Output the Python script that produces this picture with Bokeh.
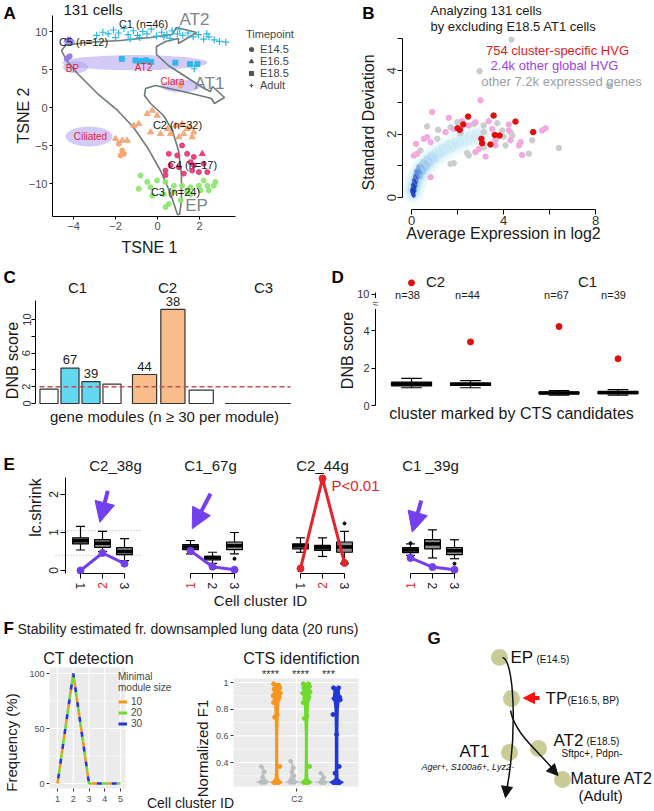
import math
from bokeh.plotting import figure
from bokeh.layouts import column, row
from bokeh.models import (Label, Range1d, FixedTicker, LinearAxis, Legend,
                          LegendItem, Arrow, NormalHead, AllLabels)
from bokeh.core.properties import value
from bokeh.embed import file_html
from bokeh.resources import INLINE

FONT = "Liberation Sans"
NAN = float("nan")
PURPLE = "#7340EE"
RED = "#E3242B"

# ======================= DATA =======================
# ---- Panel A (tSNE) ----
A_C1_CROSS_X = [-2.9, -2.6, -2.35, -2.1, -1.85, -1.6, -1.4, -1.15, -0.95, -0.7, -0.5, -0.3, -0.05, 0.2, 0.45, 0.7, 0.95,
                1.2, 1.45, 1.7, 1.95, 2.2, 2.45, 2.7, 2.95, 3.25, -2.0, -0.85, 0.3, 1.05, -1.3, 0.6, 2.35, 1.75]
A_C1_CROSS_Y = [9.5, 9.9, 9.7, 10.2, 9.8, 10.4, 9.6, 10.1, 9.5, 10.0, 9.7, 10.3, 9.4, 9.9, 9.6, 10.1, 9.7,
                9.5, 9.8, 9.3, 9.6, 9.0, 9.3, 8.9, 8.7, 8.6, 9.2, 9.2, 9.3, 10.3, 9.0, 9.1, 9.7, 5.1]
A_C1_SQ_X = [-1.7, -1.05, -0.8, -0.55, -0.3, 0.85, 1.55, 1.9]
A_C1_SQ_Y = [6.4, 6.2, 6.1, 6.2, 6.0, 5.9, 5.7, 5.7]
A_C5_X = [-4.25, -4.32, -4.18, -4.3, -4.22, -4.12]
A_C5_Y = [6.6, 6.4, 6.75, 8.8, 8.95, 8.7]
A_C2_TRI_X = [-0.49, -0.25, -0.02, -0.89, -1.13, -0.33, 0.14, 0.46, 0.86, 1.17, 1.41, 1.73, 1.25, 1.02, 1.65,
              -1.44, -1.68, 1.57, 0.62, -2.0]
A_C2_TRI_Y = [-0.83, -0.39, -1.05, -2.15, -2.37, -3.25, -3.47, -2.8, -2.37, -2.15, -2.8, -3.25, -3.47, -3.9, -3.9,
              -4.34, -4.34, -2.6, -3.47, -4.1]
A_C2_CIR_X = [-1.84, -1.68, -1.76, -1.6, 1.1]
A_C2_CIR_Y = [-4.78, -5.66, -6.3, -6.1, 2.9]
A_C4_X = [1.17, 0.54, 0.94, 1.41, 1.73, 2.2, 1.57, 1.65, 1.97, 0.38, 1.02, 1.25, 0.62, 2.37, 1.73, 0.38]
A_C4_Y = [-5.0, -6.1, -6.3, -6.1, -6.5, -7.4, -7.2, -8.3, -8.5, -8.3, -7.85, -8.7, -7.6, -8.5, -7.6, -8.9]
A_C4_TRI_X = [2.13]
A_C4_TRI_Y = [-6.1]
A_C3_X = [-0.81, -0.49, -0.89, -0.02, 0.38, 0.78, 1.17, 1.57, 1.97, 2.37, 2.68, 2.05, 1.41, 0.78, 0.3, -0.25,
          0.54, 0.38, 1.1, 1.57, 2.44, 2.2, 2.76, -0.33]
A_C3_Y = [-8.95, -9.8, -10.7, -9.6, -9.8, -10.3, -10.3, -10.5, -10.3, -10.3, -10.3, -10.9, -11.1, -11.1, -11.4,
          -11.6, -12.7, -13.1, -12.2, -11.4, -10.9, -9.6, -9.8, -10.5]
A_BLOB_X = [-1.07, -3.9, 1.1, -3.26, -4.19]
A_BLOB_Y = [5.9, 5.3, 2.85, -3.82, 8.62]
A_BLOB_W = [6.9, 1.2, 1.9, 2.24, 0.6]
A_BLOB_H = [2.0, 1.6, 1.7, 2.63, 0.9]
A_ARROW_X = [0.95, 0.62, 0.14, -0.48, -1.14, -1.90, -2.86, -3.81, -4.33, -4.57, -4.38, -3.43, -1.76, -0.33, 0.71,
             0.90, 1.86, 1.0, 1.0, 0.38, -0.05, -0.05, 0.52, 1.33, 2.14, 2.52, 2.62, 3.19, 2.71, 2.57, 1.81, 1.0,
             -0.1, -0.57, -0.62, -0.33, 0.29, 0.71, 1.0, 1.14, 1.14, 1.05]
A_ARROW_Y = [-14.08, -11.32, -8.29, -5.26, -2.63, -0.39, 1.84, 4.47, 6.18, 7.5, 8.16, 8.55, 8.82, 9.21, 9.61,
             10.53, 9.87, 8.42, 9.08, 8.68, 8.03, 6.97, 5.53, 4.08, 2.63, 2.11, 2.76, 1.32, 0.53, 1.18, 1.71, 2.24,
             2.89, 2.5, 1.58, 0.53, -1.05, -3.03, -5.66, -8.95, -12.24, -14.08]

# ---- Panel B ----
B_RED_X = [2.01, 2.1, 2.46, 3.57, 3.04, 3.07, 3.43, 3.62, 3.83, 4.52, 5.29, 2.25]
B_RED_Y = [2.18, 2.13, 2.55, 2.58, 1.85, 1.71, 1.67, 1.97, 1.95, 2.39, 2.06, 2.3]
B_PINK_X = [0.9, 1.62, 3.0, 0.2, 0.1, 0.54, 0.83, 0.83, 1.48, 1.84, 2.2, 2.78, 2.49, 3.36, 3.51, 4.23, 4.23, 4.3,
            4.74, 4.67, 4.81, 3.22, 2.78, 2.93, 3.65, 5.83, 5.68, 3.65, 0.25, 0.68]
B_PINK_Y = [2.69, 2.51, 3.06, 1.69, 1.32, 1.85, 1.74, 0.64, 2.06, 2.16, 2.4, 2.37, 2.27, 2.4, 2.16, 2.3, 2.11, 1.8,
            1.74, 1.64, 1.34, 1.29, 1.43, 1.53, 1.8, 2.18, 2.11, 1.64, 1.38, 1.9]
B_GREY_X = [4.35, 2.96, 8.58, 0.68, 1.16, 1.7, 1.99, 2.71, 3.14, 3.94, 4.01, 4.38, 4.3, 5.25, 6.41, 5.1, 2.42,
            2.49, 1.7, 1.84, 1.12, 0.39, 2.13, 3.14, 3.73, 3.14, 4.09]
B_GREY_Y = [4.97, 3.98, 3.53, 2.24, 2.13, 2.21, 2.37, 2.32, 2.06, 2.11, 1.92, 1.95, 2.06, 1.8, 1.56, 1.38, 1.4,
            1.32, 1.06, 1.08, 1.85, 1.48, 2.03, 1.58, 2.34, 2.27, 1.64]
B_DENS_X = [0.04, 0.07, 0.1, 0.13, 0.17, 0.21, 0.26, 0.32, 0.39, 0.47, 0.56, 0.66, 0.77, 0.89, 1.02, 1.16, 1.31,
            1.47, 1.64, 1.82, 2.01, 2.21, 2.42, 2.64, 2.87, 3.1]
B_DENS_Y = [0.1, 0.18, 0.27, 0.36, 0.45, 0.54, 0.63, 0.72, 0.81, 0.9, 0.98, 1.06, 1.14, 1.22, 1.3, 1.38, 1.46,
            1.53, 1.6, 1.67, 1.74, 1.8, 1.86, 1.91, 1.96, 2.0]
B_MID_X = [0.3, 0.42, 0.56, 0.72, 0.92]
B_MID_Y = [0.75, 0.9, 1.03, 1.15, 1.28]
B_MID_A = [0.3, 0.24, 0.17, 0.12, 0.07]
B_CORE_X = [0.06, 0.1, 0.14, 0.18, 0.24, 0.32]
B_CORE_Y = [0.15, 0.3, 0.45, 0.58, 0.72, 0.88]
B_CORE_A = [0.85, 0.8, 0.65, 0.5, 0.35, 0.2]

# ---- Panel C ----
C_BAR_X = [0.5, 1.5, 2.5, 3.5, 5.05, 6.4, 7.75, 9.4, 10.45, 11.5]
C_BAR_W = [0.86, 0.86, 0.86, 0.86, 1.15, 1.15, 1.15, 1.05, 1.05, 1.05]
C_DNB = [1.7, 4.2, 2.6, 2.3, 3.45, 11.2, 1.6, 0.0, 0.0, 0.0]
C_FILL = ["white", "#63D8F0", "#63D8F0", "white", "#F9BD8C", "#F9BD8C", "white", "white", "white", "white"]
C_SIZE_LABEL = ["", "67", "39", "", "44", "38", "", "", "", ""]
C_GROUPS = ["C1", "C2", "C3"]
C_GROUP_PX = [77, 167, 263]
C_THRESH = 2.0

# ---- Panel D ----
D_X = [1, 2, 3.5, 4.5]
D_LO = [0.95, 0.95, 0.55, 0.55]
D_Q1 = [1.05, 1.07, 0.63, 0.63]
D_MED = [1.15, 1.13, 0.67, 0.70]
D_Q3 = [1.25, 1.20, 0.72, 0.75]
D_HI = [1.45, 1.33, 0.80, 0.85]
D_TOP = [10.8, 3.4, 4.22, 2.5]
D_N = ["n=38", "n=44", "n=67", "n=39"]
D_N_PX = [407, 467, 556, 613]
D_CL = ["C2", "C1"]
D_CL_PX = [435, 587]

# ---- Panel E ----
E_OFF = [0, 5, 10, 15]
E_TITLES = ["C2_38g", "C1_67g", "C2_44g", "C1 _39g"]
E_TITLE_PX = [115, 210, 322, 430]
E_LO = [[0.54, 0.50, 0.26], [0.44, 0.19, 0.44], [0.48, 0.37, 0.18], [0.40, 0.33, 0.31]]
E_Q1 = [[0.70, 0.61, 0.42], [0.55, 0.28, 0.55], [0.57, 0.53, 0.48], [0.47, 0.57, 0.42]]
E_MED = [[0.78, 0.72, 0.50], [0.62, 0.34, 0.65], [0.65, 0.60, 0.62], [0.54, 0.70, 0.52]]
E_Q3 = [[0.86, 0.81, 0.60], [0.68, 0.37, 0.75], [0.70, 0.66, 0.75], [0.60, 0.81, 0.60]]
E_HI = [[1.16, 1.03, 0.84], [0.79, 0.48, 1.00], [0.86, 0.86, 1.03], [0.70, 1.07, 0.81]]
E_OUT_SUB = [1, 2, 3, 3]
E_OUT_POS = [3, 3, 1, 3]
E_OUT_VAL = [0.31, 1.24, 0.72, 0.18]
E_LINE = [[0.0, 0.46, 0.18], [0.52, 0.10, 0.02], [0.05, 2.42, 0.20], [0.33, 0.09, 0.02]]
E_LINE_COL = [PURPLE, PURPLE, RED, PURPLE]
E_HILITE = [2, 1, 2, 1]
E_ARROW_SUB = [0, 1, 3]
E_ARROW_X0 = [2.24, 1.91, 1.49]
E_ARROW_Y0 = [2.1, 2.02, 1.84]
E_ARROW_X1 = [1.88, 1.08, 1.08]
E_ARROW_Y1 = [1.27, 1.1, 1.01]
E_REF_LINES = [1.05, 0.4]

# ---- Panel F ----
F_CLUSTER = [1, 2, 3, 4, 5]
F_FREQ_10 = [0, 100, 0, 0, 0]
F_FREQ_20 = [0, 100, 0, 0, 0]
F_FREQ_30 = [0, 100, 0, 0, 0]
F_SIZES = ["10", "20", "30"]
F_COLS = ["#F5961E", "#6EDB2E", "#2237D8"]
F_F1_10 = [0.99, 0.98, 0.97, 0.96, 0.95, 0.93, 0.92, 0.90, 0.90, 0.89, 0.88, 0.87, 0.85, 0.76, 0.74, 0.37,
           0.25, 0.25, 0.25, 0.25]
F_F1_20 = [0.99, 0.99, 0.98, 0.97, 0.96, 0.95, 0.93, 0.92, 0.90, 0.89, 0.88, 0.87, 0.85, 0.75, 0.73, 0.37,
           0.25, 0.25, 0.25, 0.25]
F_F1_30 = [0.96, 0.96, 0.95, 0.89, 0.88, 0.88, 0.87, 0.76, 0.61, 0.37, 0.32, 0.25, 0.25, 0.25, 0.25, 0.25,
           0.25, 0.25, 0.25, 0.25]
F_GREY_VALS = [[0.37, 0.33, 0.29, 0.26, 0.25, 0.25, 0.25, 0.25],
               [0.41, 0.36, 0.33, 0.30, 0.27, 0.25, 0.25, 0.25],
               [0.32, 0.29, 0.27, 0.25, 0.25, 0.25, 0.25, 0.25]]
F_JIT = [-0.03, 0.02, -0.01, 0.03, -0.025, 0.01, 0.035, -0.035, 0.0, 0.025, -0.015, 0.015, -0.03, 0.005,
         -0.02, 0.03, -0.01, 0.02, -0.025, 0.01]
F_GREY_POS = [0.68, 0.96, 1.25]
F_COL_POS = [0.81, 1.095, 1.385]
F_VC_Y = [[0.25, 0.26, 0.28, 0.33, 0.45, 0.6, 0.72, 0.78, 0.85, 0.9, 0.95, 0.99],
          [0.25, 0.26, 0.28, 0.33, 0.45, 0.6, 0.72, 0.78, 0.85, 0.9, 0.95, 0.99],
          [0.25, 0.26, 0.28, 0.33, 0.45, 0.6, 0.72, 0.8, 0.86, 0.9, 0.94, 0.96]]
F_VC_HW = [[0.055, 0.03, 0.012, 0.01, 0.008, 0.008, 0.012, 0.014, 0.02, 0.03, 0.03, 0.016],
           [0.055, 0.03, 0.012, 0.01, 0.008, 0.008, 0.012, 0.014, 0.02, 0.03, 0.03, 0.016],
           [0.065, 0.035, 0.012, 0.01, 0.01, 0.01, 0.012, 0.014, 0.022, 0.028, 0.024, 0.014]]
F_VG_Y = [[0.25, 0.26, 0.28, 0.30, 0.34, 0.37], [0.25, 0.26, 0.28, 0.31, 0.36, 0.41],
          [0.25, 0.26, 0.27, 0.29, 0.31, 0.32]]
F_VG_HW = [[0.07, 0.045, 0.016, 0.01, 0.008, 0.003], [0.07, 0.045, 0.02, 0.014, 0.01, 0.003],
           [0.075, 0.03, 0.012, 0.008, 0.006, 0.003]]
F_STARS = ["****", "****", "***"]
F_STAR_PX = [270, 300, 328]

# ---- Panel G ----
G_NODE_X = [79, 91, 89, 118, 142]
G_NODE_Y = [47, 88, 142, 138, 169]


# ======================= HELPERS =======================
# a mapping m = (ref_px_x, value_x, px_per_unit_x, ref_px_y, value_y, px_per_unit_y) in page pixels
def X(m, px):
    return m[1] + (px - m[0]) / m[2]


def Y(m, py):
    return m[4] + (m[3] - py) / m[5]


def mk(m, x0, y0, w, h):
    p = figure(width=w, height=h, x_range=Range1d(X(m, x0), X(m, x0 + w)),
               y_range=Range1d(Y(m, y0 + h), Y(m, y0)), output_backend="svg", toolbar_location=None,
               x_axis_location=None, y_axis_location=None, title=None,
               min_border_left=0, min_border_right=0, min_border_top=0, min_border_bottom=0)
    p.outline_line_color = None
    p.xgrid.visible = False
    p.ygrid.visible = False
    return p


def axis(p, side, loc, ticks, fs="10px", col="#4D4D4D", line="black", tickc="black", tick=3,
         orient=None, mstand=2, bounds=None, overrides=None, yname=None):
    kw = {}
    if yname:
        kw["y_range_name"] = yname
    ax = LinearAxis(fixed_location=loc, **kw)
    ax.ticker = FixedTicker(ticks=ticks)
    ax.major_label_policy = AllLabels()
    ax.major_label_text_font = FONT
    ax.major_label_text_font_size = fs
    ax.major_label_text_color = col
    ax.axis_line_color = line
    ax.major_tick_line_color = tickc
    ax.minor_tick_line_color = None
    ax.major_tick_out = tick
    ax.major_tick_in = 0
    ax.major_label_standoff = mstand
    if orient is not None:
        ax.major_label_orientation = orient
    if bounds is not None:
        ax.bounds = bounds
    if overrides:
        ax.major_label_overrides = overrides
    p.add_layout(ax, side)
    return ax


def T(p, m, px, py, text, fs=12, color="#1a1a1a", align="center", base="middle", style="normal", angle=0):
    p.add_layout(Label(x=X(m, px), y=Y(m, py), text=text, text_font=FONT, text_font_size=f"{fs}px",
                       text_color=color, text_align=align, text_baseline=base, text_font_style=style,
                       angle=angle))


def boxes(p, xs, lo, q1, med, q3, hi, w, capw, fill="#8c8c8c"):
    p.segment(xs, lo, xs, q1, line_color="black", line_width=1.2)
    p.segment(xs, q3, xs, hi, line_color="black", line_width=1.2)
    p.segment([x - capw / 2 for x in xs], lo, [x + capw / 2 for x in xs], lo, line_color="black", line_width=1.2)
    p.segment([x - capw / 2 for x in xs], hi, [x + capw / 2 for x in xs], hi, line_color="black", line_width=1.2)
    p.quad(left=[x - w / 2 for x in xs], right=[x + w / 2 for x in xs], bottom=q1, top=q3,
           fill_color=fill, line_color="black", line_width=1.2)
    p.segment([x - w / 2 for x in xs], med, [x + w / 2 for x in xs], med, line_color="black", line_width=3.5)


def style_legend(leg, fs):
    leg.label_text_font = FONT
    leg.label_text_font_size = fs
    leg.title_text_font = FONT
    leg.title_text_font_size = fs
    leg.title_text_font_style = "normal"
    leg.spacing = 0
    leg.padding = 2
    leg.margin = 0
    leg.title_standoff = 3
    leg.label_standoff = 4
    leg.background_fill_alpha = 0
    leg.border_line_alpha = 0


# ======================= PANEL A =======================
mA = (157, 0, 21, 107, 0, 7.6)
C1COL, C2COL, C3COL, C4COL, C5COL = "#2DB8E6", "#F4A270", "#8BE76A", "#E63470", "#9B7BE3"
pa = mk(mA, 0, 0, 330, 262)
pa.ellipse(A_BLOB_X, A_BLOB_Y, width=A_BLOB_W, height=A_BLOB_H, fill_color="#B6A6EE", fill_alpha=0.6,
           line_color=None)
pa.patch(A_ARROW_X, A_ARROW_Y, fill_alpha=0, line_color="#6E7A7A", line_width=1.6)
pa.scatter(A_C1_CROSS_X, A_C1_CROSS_Y, marker="cross", size=7, line_color=C1COL, line_width=1.2)
pa.scatter(A_C1_SQ_X, A_C1_SQ_Y, marker="square", size=5, color=C1COL)
pa.scatter(A_C5_X, A_C5_Y, marker="circle", size=5, color=C5COL)
pa.scatter(A_C2_TRI_X, A_C2_TRI_Y, marker="triangle", size=6, color=C2COL, alpha=0.9)
pa.scatter(A_C2_CIR_X, A_C2_CIR_Y, marker="circle", size=5, color=C2COL, alpha=0.9)
pa.scatter(A_C3_X, A_C3_Y, marker="circle", size=5, color=C3COL, alpha=0.9)
pa.scatter(A_C4_X, A_C4_Y, marker="circle", size=5, color=C4COL, alpha=0.9)
pa.scatter(A_C4_TRI_X, A_C4_TRI_Y, marker="triangle", size=6, color=C4COL, alpha=0.9)
axis(pa, "below", Y(mA, 216), [-4, -2, 0, 2], fs="11px", bounds=(X(mA, 52), X(mA, 235)),
     overrides={-4: "\u22124", -2: "\u22122"})
axis(pa, "left", X(mA, 52), [-10, -5, 0, 5, 10], fs="11px", bounds=(Y(mA, 216), Y(mA, 15)),
     overrides={-10: "\u221210", -5: "\u22125"})
T(pa, mA, 149, 247, "TSNE 1", fs=16)
T(pa, mA, 23, 115, "TSNE 2", fs=16, angle=math.pi / 2)
T(pa, mA, 3, 13, "A", fs=17, style="bold", color="black", align="left")
T(pa, mA, 63, 9, "131 cells", fs=15, align="left")
T(pa, mA, 143, 23, "C1 (n=46)", fs=11)
T(pa, mA, 83, 41, "C5 (n=12)", fs=11)
T(pa, mA, 177, 124, "C2 (n=32)", fs=11)
T(pa, mA, 192, 164, "C4 (n=17)", fs=11)
T(pa, mA, 175, 191, "C3 (n=24)", fs=11)
for tx, px, py in [("BP", 72, 68), ("AT2", 143, 67), ("Clara", 172, 81), ("Ciliated", 90, 136)]:
    T(pa, mA, px, py, tx, fs=10, color="#E8203A")
for tx, px, py in [("AT2", 194, 19), ("AT1", 209, 83), ("EP", 196, 205)]:
    T(pa, mA, px, py, tx, fs=17, color="#7D8787")
items = []
for nm, mkr in [("E14.5", "circle"), ("E16.5", "triangle"), ("E18.5", "square"), ("Adult", "cross")]:
    r = pa.scatter([NAN], [NAN], marker=mkr, size=6, color="#555555", line_width=1.2)
    items.append(LegendItem(label=value(nm), renderers=[r]))
leg = Legend(items=items, title="Timepoint", location=(244, 169))
style_legend(leg, "11px")
leg.glyph_width = 10
leg.glyph_height = 12
leg.label_height = 12
pa.add_layout(leg)

# ======================= PANEL B =======================
mB = (411, 0, 23, 197, 0, 31.75)
pb = mk(mB, 330, 0, 324, 262)
pb.ellipse(B_DENS_X, B_DENS_Y, width=0.9, height=0.75, angle=0.5, fill_color="#A6DCF2", fill_alpha=0.07,
           line_color=None)
pb.ellipse(B_DENS_X, B_DENS_Y, width=0.55, height=0.45, angle=0.5, fill_color="#8FD0EE", fill_alpha=0.12,
           line_color=None)
pb.ellipse(B_MID_X, B_MID_Y, width=0.35, height=0.4, angle=0.6, fill_color="#3C7EDD", fill_alpha=B_MID_A,
           line_color=None)
pb.ellipse(B_CORE_X, B_CORE_Y, width=0.2, height=0.32, angle=0.3, fill_color="#0A2FC0",
           fill_alpha=B_CORE_A, line_color=None)
pb.scatter(B_GREY_X, B_GREY_Y, size=5.5, color="#C9CDCD")
pb.scatter(B_PINK_X, B_PINK_Y, size=5.5, color="#F2A9DF")
pb.scatter(B_RED_X, B_RED_Y, size=5.5, color="#E00E0E")
axis(pb, "below", Y(mB, 209), [0, 2, 4, 6, 8], fs="13px", col="#333333", tick=5, mstand=1, bounds=(0, 8),
     overrides={2: "", 6: ""})
axis(pb, "left", X(mB, 402), [0, 1, 2, 3, 4, 5], fs="13px", col="#333333", tick=5, mstand=2,
     orient="vertical", bounds=(0, 5), overrides={1: "", 3: "", 5: ""})
T(pb, mB, 368, 13, "B", fs=17, style="bold", color="black")
T(pb, mB, 430, 10, "Analyzing 131 cells", fs=13, align="left")
T(pb, mB, 430, 26, "by excluding E18.5 AT1 cells", fs=13, align="left")
T(pb, mB, 557, 50, "754 cluster-specific HVG", fs=13, color="#E31A1C")
T(pb, mB, 554, 65, "2.4k other global HVG", fs=13, color="#A23FE6")
T(pb, mB, 561, 81, "other 7.2k expressed genes", fs=13, color="#9AA0A0")
T(pb, mB, 368, 122, "Standard Deviation", fs=16, angle=math.pi / 2)
T(pb, mB, 503, 233, "Average Expression in log2", fs=16)

# ======================= PANEL C =======================
mC = (38, 0, 21, 403, 0, 8.4)
pc = mk(mC, 0, 262, 330, 181)
pc.vbar(x=C_BAR_X, width=C_BAR_W, top=C_DNB, bottom=0, fill_color=C_FILL, line_color="#333333",
        line_width=1.2)
pc.segment([X(mC, 39)], [C_THRESH], [X(mC, 290)], [C_THRESH], line_color="#C0504D", line_width=1.6,
           line_dash="5 3")
axis(pc, "left", X(mC, 35), [0, 2, 4, 6, 8, 10], fs="11px", col="#333333", tick=4, mstand=1,
     orient="vertical", bounds=(0, Y(mC, 300)), overrides={4: "", 8: ""})
for i, s in enumerate(C_SIZE_LABEL):
    if s:
        pc.add_layout(Label(x=C_BAR_X[i], y=C_DNB[i] + 0.45, text=s, text_font=FONT, text_font_size="13px",
                            text_color="#1a1a1a", text_align="center", text_baseline="bottom"))
for g, gx in zip(C_GROUPS, C_GROUP_PX):
    T(pc, mC, gx, 287, g, fs=15)
T(pc, mC, 3, 277, "C", fs=17, style="bold", color="black", align="left")
T(pc, mC, 12, 360, "DNB score", fs=16, angle=math.pi / 2)
T(pc, mC, 164, 416, "gene modules (n \u2265 30 per module)", fs=15)

# ======================= PANEL D =======================
def brk(v):
    return v if v < 5.5 else 5.95 + (v - 10) * 0.76


mD = (411, 1, 59, 405, 0, 18.7)
pdd = mk(mD, 330, 262, 324, 181)
boxes(pdd, D_X, D_LO, D_Q1, D_MED, D_Q3, D_HI, 0.68, 0.35)
pdd.scatter(D_X, [brk(v) for v in D_TOP], size=6, color="#E00E0E")
axis(pdd, "left", X(mD, 375), [0, 2, 4, 5.95], fs="11px", col="#333333", tick=4, mstand=2,
     bounds=(0, 6.05), overrides={5.95: "10"})
pdd.add_layout(Label(x=X(mD, 375), y=5.45, text="\u2248", text_font=FONT, text_font_size="10px",
                     text_align="center", text_baseline="middle", background_fill_color="white"))
for nlab, px in zip(D_N, D_N_PX):
    T(pdd, mD, px, 294, nlab, fs=11)
for cl, px in zip(D_CL, D_CL_PX):
    T(pdd, mD, px, 281, cl, fs=15)
T(pdd, mD, 331, 277, "D", fs=17, style="bold", color="black", align="left")
T(pdd, mD, 347, 350, "DNB score", fs=16, angle=math.pi / 2)
T(pdd, mD, 511, 413, "cluster marked by CTS candidates", fs=16)

# ======================= PANEL E =======================
mE = (80, 1, 22, 570, 0, 38)
pe = mk(mE, 0, 443, 654, 167)
pe.segment([X(mE, 55)] * 2, E_REF_LINES, [X(mE, 140)] * 2, E_REF_LINES, line_color="#AAAAAA", line_width=1,
           line_dash="1 2")
for k, off in enumerate(E_OFF):
    xs = [off + 1, off + 2, off + 3]
    pe.segment([off + 1], [Y(mE, 573)], [off + 3], [Y(mE, 573)], line_color="black", line_width=1)
    boxes(pe, xs, E_LO[k], E_Q1[k], E_MED[k], E_Q3[k], E_HI[k], 0.72, 0.41)
    pe.line(xs, E_LINE[k], line_color=E_LINE_COL[k], line_width=3)
    pe.scatter(xs, E_LINE[k], size=7, color=E_LINE_COL[k])
    T(pe, mE, E_TITLE_PX[k], 465, E_TITLES[k], fs=15)
    pe.add_layout(Label(x=off + E_HILITE[k], y=Y(mE, 585), text=str(E_HILITE[k]), text_font=FONT,
                        text_font_size="12px", text_color=RED, text_align="center", text_baseline="middle",
                        angle=math.pi / 2))
pe.scatter([E_OFF[s] + p for s, p in zip(E_OUT_SUB, E_OUT_POS)], E_OUT_VAL, size=3, color="black")
for s, x0, y0, x1, y1 in zip(E_ARROW_SUB, E_ARROW_X0, E_ARROW_Y0, E_ARROW_X1, E_ARROW_Y1):
    pe.add_layout(Arrow(end=NormalHead(size=20, fill_color=PURPLE, line_color=PURPLE),
                        x_start=E_OFF[s] + x0, y_start=y0, x_end=E_OFF[s] + x1, y_end=y1,
                        line_color=PURPLE, line_width=4))
T(pe, mE, 355, 485, "P<0.01", fs=15, color=RED)
e_ticks, e_over = [], {}
for k, off in enumerate(E_OFF):
    for j in (1, 2, 3):
        e_ticks.append(off + j)
        e_over[off + j] = "" if j == E_HILITE[k] else str(j)
axis(pe, "below", Y(mE, 573), e_ticks, fs="12px", col="#222222", line=None, tick=5, mstand=4,
     orient="vertical", overrides=e_over)
axis(pe, "left", X(mE, 65), [0, 1, 2], fs="12px", col="#222222", tick=5, mstand=3, orient="vertical",
     bounds=(Y(mE, 573), Y(mE, 477)))
T(pe, mE, 3, 464, "E", fs=17, style="bold", color="black", align="left")
T(pe, mE, 35, 507, "lc.shrink", fs=16, angle=math.pi / 2)
T(pe, mE, 260, 600, "Cell cluster ID", fs=15)

# ======================= PANEL F =======================
mF = (57, 1, 15.75, 783, 0, 1.1)
mF2 = (296, 1, 104.2, 762, 0.4, 133.3)
pf = mk(mF, 0, 610, 420, 201)
pf.extra_x_ranges = {"f2x": Range1d(X(mF2, 0), X(mF2, 420))}
pf.extra_y_ranges = {"f2y": Range1d(Y(mF2, 811), Y(mF2, 610))}
f2 = dict(x_range_name="f2x", y_range_name="f2y")
F1L, F1R, F1B, F1T = X(mF, 49), X(mF, 125), Y(mF, 788), Y(mF, 667)
F2L, F2R, F2B, F2T = X(mF2, 233), X(mF2, 358), Y(mF2, 786), Y(mF2, 678)
pf.quad(left=[F1L], right=[F1R], bottom=[F1B], top=[F1T], fill_color="#EBEBEB", line_color=None)
pf.quad(left=[F2L], right=[F2R], bottom=[F2B], top=[F2T], fill_color="#EBEBEB", line_color=None, **f2)
pf.segment([F1L] * 2, [25, 75], [F1R] * 2, [25, 75], line_color="white", line_width=0.6)
pf.segment([F1L] * 3, [0, 50, 100], [F1R] * 3, [0, 50, 100], line_color="white", line_width=1.2)
pf.segment(F_CLUSTER, [F1B] * 5, F_CLUSTER, [F1T] * 5, line_color="white", line_width=1.2)
pf.segment([F2L] * 4, [0.3, 0.5, 0.7, 0.9], [F2R] * 4, [0.3, 0.5, 0.7, 0.9], line_color="white",
           line_width=0.6, **f2)
pf.segment([F2L] * 4, [0.4, 0.6, 0.8, 1.0], [F2R] * 4, [0.4, 0.6, 0.8, 1.0], line_color="white",
           line_width=1.2, **f2)
pf.segment([1.0], [F2B], [1.0], [F2T], line_color="white", line_width=1.2, **f2)
for freq, colr, off in zip([F_FREQ_10, F_FREQ_20, F_FREQ_30], F_COLS, [0, 5, 10]):
    pf.line(F_CLUSTER, freq, line_color=colr, line_width=2.6, line_dash="5 10", line_dash_offset=off)
items = []
for lab_, colr in zip(F_SIZES, F_COLS):
    r = pf.line([NAN, NAN], [NAN, NAN], line_color=colr, line_width=3)
    items.append(LegendItem(label=value(lab_), renderers=[r]))
legf = Legend(items=items, title="Minimal\nmodule size", location=(116, 80))
style_legend(legf, "10px")
legf.glyph_width = 9
legf.glyph_height = 9
legf.label_height = 9
pf.add_layout(legf)
for i in range(3):
    pos = F_GREY_POS[i]
    ys, hw = F_VG_Y[i], F_VG_HW[i]
    pf.patch([pos - h for h in hw] + [pos + h for h in hw[::-1]], ys + ys[::-1], fill_color="#C3C7C7",
             line_color="#C3C7C7", line_width=1, **f2)
    gv = F_GREY_VALS[i]
    pf.scatter([pos + j * 0.6 for j in F_JIT[:len(gv)]], gv, size=3.5, color="#B8BDBD", **f2)
for i, (vals, colr) in enumerate(zip([F_F1_10, F_F1_20, F_F1_30], F_COLS)):
    pos = F_COL_POS[i]
    ys, hw = F_VC_Y[i], F_VC_HW[i]
    pf.patch([pos - h for h in hw] + [pos + h for h in hw[::-1]], ys + ys[::-1], fill_color=colr,
             line_color=colr, line_width=1.5, **f2)
    pf.scatter([pos + j for j in F_JIT], vals, size=4, color=colr, **f2)
for st, px in zip(F_STARS, F_STAR_PX):
    T(pf, mF, px, 673, st, fs=11, color="#333333")
axis(pf, "left", F1L, [0, 50, 100], fs="9px", col="#4D4D4D", line=None, tickc="#333333", tick=3, mstand=2)
axis(pf, "below", F1B, [1, 2, 3, 4, 5, 16.2], fs="9px", col="#4D4D4D", line=None, tickc="#333333", tick=3,
     mstand=2, overrides={16.2: "C2"})
axis(pf, "left", X(mF, 233), [0.4, 0.6, 0.8, 1.0], fs="9px", col="#4D4D4D", line=None, tickc="#333333",
     tick=3, mstand=2, yname="f2y")
T(pf, mF, 3, 628, "F", fs=17, style="bold", color="black", align="left")
T(pf, mF, 17, 628, "Stability estimated fr. downsampled lung data (20 runs)", fs=14, align="left")
T(pf, mF, 88, 658, "CT detection", fs=16)
T(pf, mF, 301, 658, "CTS identifiction", fs=16)
T(pf, mF, 11, 742, "Frequency (%)", fs=15, angle=math.pi / 2)
T(pf, mF, 202, 748, "Normalized F1", fs=15, angle=math.pi / 2)
T(pf, mF, 190, 802, "Cell cluster ID", fs=14)

# ======================= PANEL G =======================
pg = figure(width=234, height=201, x_range=Range1d(0, 234), y_range=Range1d(201, 0), output_backend="svg",
            toolbar_location=None, x_axis_location=None, y_axis_location=None, title=None,
            min_border_left=0, min_border_right=0, min_border_top=0, min_border_bottom=0)
pg.outline_line_color = None
pg.xgrid.visible = False
pg.ygrid.visible = False
pg.circle(G_NODE_X, G_NODE_Y, radius=8.5, fill_color="#CACC98", line_color=None)
pg.bezier(x0=[82, 90], y0=[47, 100], x1=[85, 137], y1=[186, 164], cx0=[93, 95], cy0=[48, 125],
          cx1=[98, 118], cy1=[120, 140], line_color="#111111", line_width=1.5)
pg.add_layout(Arrow(end=NormalHead(size=11, fill_color="#111111", line_color="#111111"),
                    x_start=86.3, y_start=178, x_end=85, y_end=187, line_color="#111111", line_width=1.5))
pg.add_layout(Arrow(end=NormalHead(size=11, fill_color="#111111", line_color="#111111"),
                    x_start=132, y_start=159, x_end=137.5, y_end=165, line_color="#111111", line_width=1.5))
pg.add_layout(Arrow(end=NormalHead(size=11, fill_color="#FF1010", line_color="#FF1010"),
                    x_start=119, y_start=87.5, x_end=103, y_end=87.5, line_color="#FF1010", line_width=4))


def G(x, y, text, fs, style="normal"):
    pg.add_layout(Label(x=x, y=y, text=text, text_font=FONT, text_font_size=f"{fs}px", text_color="#111111",
                        text_align="left", text_baseline="middle", text_font_style=style))


G(7, 28, "G", 17, "bold")
G(90, 47, "EP", 17)
G(116, 49, "(E14.5)", 10)
G(125, 87.5, "TP", 17)
G(147, 90, "(E16.5, BP)", 10)
G(133, 130, "AT2", 17)
G(166, 131, "(E18.5)", 10)
G(141, 143, "Sftpc+, Pdpn-", 10)
G(39, 141, "AT1", 17)
G(1, 156, "Ager+, S100a6+, Lyz2-", 9, "italic")
G(150, 168, "Mature AT2", 16)
G(158, 185, "(Adult)", 15)

layout = column(row(pa, pb), row(pc, pdd), pe, row(pf, pg))
open("out.html", "w").write(file_html(layout, INLINE))
